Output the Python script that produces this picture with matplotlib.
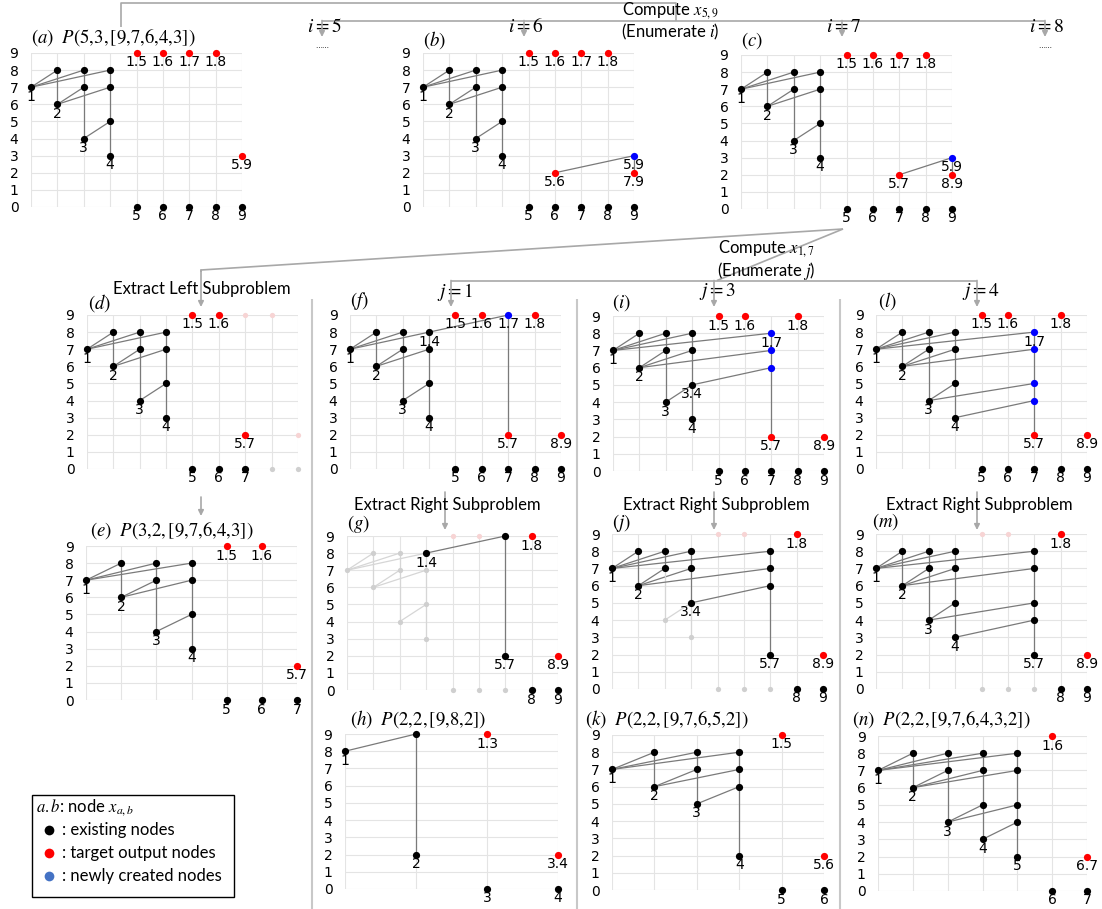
import matplotlib.pyplot as plt
from matplotlib.patches import Rectangle

plt.rcParams['mathtext.fontset'] = 'stix'

W, H = 1102, 909

# ---- data: nodes are (column, row, label, kind); kind k=black r=red b=blue g=faded grey p=faded red
TREE = [(1, 7, '1', 'k'), (2, 8, '', 'k'), (2, 6, '2', 'k'), (3, 8, '', 'k'), (3, 7, '', 'k'),
        (3, 4, '3', 'k'), (4, 8, '', 'k'), (4, 7, '', 'k'), (4, 5, '', 'k'), (4, 3, '4', 'k')]
TREE_EDGES = [((1, 7), (2, 8)), ((1, 7), (3, 8)), ((1, 7), (4, 8)), ((2, 8), (2, 6)),
              ((2, 6), (3, 7)), ((2, 6), (4, 7)), ((3, 8), (3, 4)), ((3, 4), (4, 5)),
              ((4, 8), (4, 3))]
BOTTOM = [(5, 0, '5', 'k'), (6, 0, '6', 'k'), (7, 0, '7', 'k'), (8, 0, '8', 'k'), (9, 0, '9', 'k')]
TOP_RED = [(5, 9, '1.5', 'r'), (6, 9, '1.6', 'r'), (7, 9, '1.7', 'r'), (8, 9, '1.8', 'r')]
RIGHT_BASE = [(5, 9, '', 'p'), (6, 9, '', 'p'), (5, 0, '', 'g'), (6, 0, '', 'g'), (7, 0, '', 'g'),
              (8, 0, '8', 'k'), (9, 0, '9', 'k'), (8, 9, '1.8', 'r'), (9, 2, '8.9', 'r')]


def relabel(nodes, changes):
    out = []
    for c, r, lab, kind in nodes:
        if (c, r) in changes:
            lab, kind = changes[(c, r)]
        out.append((c, r, lab, kind))
    return out


a_nodes = TREE + BOTTOM + TOP_RED + [(9, 3, '5.9', 'r')]
a_edges = TREE_EDGES

b_nodes = TREE + BOTTOM + TOP_RED + [(9, 3, '5.9', 'b'), (6, 2, '5.6', 'r'), (9, 2, '7.9', 'r')]
b_edges = TREE_EDGES + [((6, 2), (9, 3)), ((9, 3), (9, 2))]

c_nodes = TREE + BOTTOM + TOP_RED + [(9, 3, '5.9', 'b'), (7, 2, '5.7', 'r'), (9, 2, '8.9', 'r')]
c_edges = TREE_EDGES + [((7, 2), (9, 3)), ((9, 3), (9, 2))]

d_nodes = TREE + [(5, 0, '5', 'k'), (6, 0, '6', 'k'), (7, 0, '7', 'k'), (8, 0, '', 'g'), (9, 0, '', 'g'),
                  (5, 9, '1.5', 'r'), (6, 9, '1.6', 'r'), (7, 9, '', 'p'), (8, 9, '', 'p'),
                  (7, 2, '5.7', 'r'), (9, 2, '', 'p')]
d_edges = TREE_EDGES

e_nodes = TREE + [(5, 0, '5', 'k'), (6, 0, '6', 'k'), (7, 0, '7', 'k'),
                  (5, 9, '1.5', 'r'), (6, 9, '1.6', 'r'), (7, 2, '5.7', 'r')]
e_edges = TREE_EDGES

f_nodes = relabel(TREE, {(4, 8): ('1.4', 'k')}) + BOTTOM + [
    (5, 9, '1.5', 'r'), (6, 9, '1.6', 'r'), (7, 9, '1.7', 'b'), (8, 9, '1.8', 'r'),
    (7, 2, '5.7', 'r'), (9, 2, '8.9', 'r')]
f_edges = TREE_EDGES + [((4, 8), (7, 9)), ((7, 9), (7, 2))]

g_nodes = [(c, r, '', 'g') for c, r, _, _ in TREE if (c, r) != (4, 8)] + [
    (4, 8, '1.4', 'k'), (7, 9, '', 'k'), (7, 2, '5.7', 'k')] + RIGHT_BASE
g_edges = [(p, q, 'f') for p, q in TREE_EDGES] + [((4, 8), (7, 9)), ((7, 9), (7, 2))]

h_nodes = [(1, 8, '1', 'k'), (2, 9, '', 'k'), (2, 2, '2', 'k'), (3, 9, '1.3', 'r'),
           (4, 2, '3.4', 'r'), (3, 0, '3', 'k'), (4, 0, '4', 'k')]
h_edges = [((1, 8), (2, 9)), ((2, 9), (2, 2))]

i_nodes = relabel(TREE, {(4, 5): ('3.4', 'k')}) + BOTTOM + [
    (5, 9, '1.5', 'r'), (6, 9, '1.6', 'r'), (8, 9, '1.8', 'r'), (7, 8, '1.7', 'b'),
    (7, 7, '', 'b'), (7, 6, '', 'b'), (7, 2, '5.7', 'r'), (9, 2, '8.9', 'r')]
i_edges = TREE_EDGES + [((1, 7), (7, 8)), ((2, 6), (7, 7)), ((4, 5), (7, 6)), ((7, 8), (7, 2))]

j_nodes = relabel(TREE, {(4, 5): ('3.4', 'k'), (3, 4): ('', 'g'), (4, 3): ('', 'g')}) + [
    (7, 8, '', 'k'), (7, 7, '', 'k'), (7, 6, '', 'k'), (7, 2, '5.7', 'k')] + RIGHT_BASE
j_edges = [((1, 7), (2, 8)), ((1, 7), (3, 8)), ((1, 7), (4, 8)), ((2, 8), (2, 6)),
           ((2, 6), (3, 7)), ((2, 6), (4, 7)), ((3, 8), (3, 7)), ((3, 7), (3, 4), 'f'),
           ((3, 4), (4, 5), 'f'), ((4, 8), (4, 5)), ((4, 5), (4, 3), 'f'),
           ((1, 7), (7, 8)), ((2, 6), (7, 7)), ((4, 5), (7, 6)), ((7, 8), (7, 2))]

k_nodes = [(1, 7, '1', 'k'), (2, 8, '', 'k'), (2, 6, '2', 'k'), (3, 8, '', 'k'), (3, 7, '', 'k'),
           (3, 5, '3', 'k'), (4, 8, '', 'k'), (4, 7, '', 'k'), (4, 6, '', 'k'), (4, 2, '4', 'k'),
           (5, 9, '1.5', 'r'), (6, 2, '5.6', 'r'), (5, 0, '5', 'k'), (6, 0, '6', 'k')]
k_edges = [((1, 7), (2, 8)), ((1, 7), (3, 8)), ((1, 7), (4, 8)), ((2, 8), (2, 6)),
           ((2, 6), (3, 7)), ((2, 6), (4, 7)), ((3, 8), (3, 5)), ((3, 5), (4, 6)), ((4, 8), (4, 2))]

l_nodes = TREE + BOTTOM + [
    (5, 9, '1.5', 'r'), (6, 9, '1.6', 'r'), (8, 9, '1.8', 'r'), (7, 8, '1.7', 'b'),
    (7, 7, '', 'b'), (7, 5, '', 'b'), (7, 4, '', 'b'), (7, 2, '5.7', 'r'), (9, 2, '8.9', 'r')]
l_edges = TREE_EDGES + [((1, 7), (7, 8)), ((2, 6), (7, 7)), ((3, 4), (7, 5)), ((4, 3), (7, 4)),
                        ((7, 8), (7, 2))]

m_nodes = TREE + [(7, 8, '', 'k'), (7, 7, '', 'k'), (7, 5, '', 'k'), (7, 4, '', 'k'),
                  (7, 2, '5.7', 'k')] + RIGHT_BASE
m_edges = l_edges

n_nodes = [(1, 7, '1', 'k'), (2, 8, '', 'k'), (2, 6, '2', 'k'), (3, 8, '', 'k'), (3, 7, '', 'k'),
           (3, 4, '3', 'k'), (4, 8, '', 'k'), (4, 7, '', 'k'), (4, 5, '', 'k'), (4, 3, '4', 'k'),
           (5, 8, '', 'k'), (5, 7, '', 'k'), (5, 5, '', 'k'), (5, 4, '', 'k'), (5, 2, '5', 'k'),
           (6, 9, '1.6', 'r'), (7, 2, '6.7', 'r'), (6, 0, '6', 'k'), (7, 0, '7', 'k')]
n_edges = [((1, 7), (2, 8)), ((1, 7), (3, 8)), ((1, 7), (4, 8)), ((1, 7), (5, 8)), ((2, 8), (2, 6)),
           ((2, 6), (3, 7)), ((2, 6), (4, 7)), ((2, 6), (5, 7)), ((3, 8), (3, 4)), ((3, 4), (4, 5)),
           ((3, 4), (5, 5)), ((4, 8), (4, 3)), ((4, 3), (5, 4)), ((5, 8), (5, 2))]

# panel boxes in pixels: x of first column, x of last column, y of row 9, y of row 0
PANELS = [
    ((31, 242, 53, 207), 9, a_nodes, a_edges),
    ((423, 634, 53, 207), 9, b_nodes, b_edges),
    ((741, 952, 55, 209), 9, c_nodes, c_edges),
    ((87, 298, 315, 469), 9, d_nodes, d_edges),
    ((86, 297, 546, 700), 7, e_nodes, e_edges),
    ((350, 561, 315, 469), 9, f_nodes, f_edges),
    ((347, 558, 536, 690), 9, g_nodes, g_edges),
    ((345, 558, 734, 889), 4, h_nodes, h_edges),
    ((613, 824, 316, 471), 9, i_nodes, i_edges),
    ((612, 823, 534, 689), 9, j_nodes, j_edges),
    ((612, 824, 735, 890), 6, k_nodes, k_edges),
    ((876, 1087, 315, 469), 9, l_nodes, l_edges),
    ((876, 1087, 534, 689), 9, m_nodes, m_edges),
    ((878, 1087, 736, 891), 7, n_nodes, n_edges),
]

NODE_COLORS = {'k': '#000000', 'r': '#ff0000', 'b': '#0000ff', 'g': '#cfcfcf', 'p': '#f7d4d4'}

fig = plt.figure(figsize=(W / 100, H / 100), dpi=100)


def draw_panel(box, ncol, nodes, edges):
    xl, xr, yt, yb = box
    ax = fig.add_axes([xl / W, 1 - yb / H, (xr - xl) / W, (yb - yt) / H])
    ax.set_xlim(1, ncol)
    ax.set_ylim(0, 9)
    ax.set_xticks(range(1, ncol + 1))
    ax.set_yticks(range(10))
    ax.grid(True, color='#e4e4e4', lw=0.8)
    ax.set_axisbelow(True)
    ax.tick_params(length=0, labelbottom=False, pad=9, labelsize=10)
    for s in ax.spines.values():
        s.set_visible(False)
    for e in edges:
        p, q = e[0], e[1]
        faded = len(e) > 2
        ax.plot([p[0], q[0]], [p[1], q[1]], color='#d6d6d6' if faded else '#7a7a7a',
                lw=0.9, zorder=2, clip_on=False)
    for c, r, lab, kind in nodes:
        small = kind in 'gp'
        ax.plot(c, r, 'o', color=NODE_COLORS[kind], ms=3.8 if small else 5.2,
                mec='none', zorder=3, clip_on=False)
        if lab:
            ax.annotate(lab, (c, r), xytext=(0, -1.8), textcoords='offset points',
                        ha='center', va='top', fontsize=10, annotation_clip=False, zorder=4)
    return ax


for box, ncol, nodes, edges in PANELS:
    draw_panel(box, ncol, nodes, edges)

# ---- overlay in pixel coordinates for titles, connectors and legend
ov = fig.add_axes([0, 0, 1, 1])
ov.set_xlim(0, W)
ov.set_ylim(H, 0)
ov.axis('off')
ov.patch.set_alpha(0)

LINE_C = '#a8a8a8'
SANS = 'Lato'


def seg(xs, ys, lw=1.2, color=LINE_C):
    ov.plot(xs, ys, color=color, lw=lw, solid_capstyle='butt')


def arrow(x, y0, y1):
    ov.annotate('', xy=(x, y1), xytext=(x, y0),
                arrowprops=dict(arrowstyle='-|>', color=LINE_C, lw=1.2, mutation_scale=8,
                                shrinkA=0, shrinkB=0))


titles = [
    (31, 37, r'$(a)\ \ P(5{,}3{,}\,[9{,}7{,}6{,}4{,}3])$'),
    (423, 40, r'$(b)$'),
    (741, 41, r'$(c)$'),
    (88, 303, r'$(d)$'),
    (90, 530, r'$(e)\ \ P(3{,}2{,}\,[9{,}7{,}6{,}4{,}3])$'),
    (350, 301, r'$(f)$'),
    (347, 524, r'$(g)$'),
    (350, 719, r'$(h)\ \ P(2{,}2{,}\,[9{,}8{,}2])$'),
    (612, 303, r'$(i)$'),
    (612, 523, r'$(j)$'),
    (585, 719, r'$(k)\ \ P(2{,}2{,}\,[9{,}7{,}6{,}5{,}2])$'),
    (878, 301, r'$(l)$'),
    (872, 522, r'$(m)$'),
    (852, 719, r'$(n)\ \ P(2{,}2{,}\,[9{,}7{,}6{,}4{,}3{,}2])$'),
]
for x, y, t in titles:
    ov.text(x, y, t, fontsize=13.5, ha='left', va='center')

# top connector: compute x_{5,9}, enumerate i
seg([121, 121, 676, 676], [27, 3, 3, 20.5])
seg([322, 1045], [20.5, 20.5])
for x, lab in [(322, '$i=5$'), (524, '$i=6$'), (842, '$i=7$'), (1045, '$i=8$')]:
    ov.text(x + 2, 27, lab, fontsize=14, ha='center', va='center')
    arrow(x, 20.5, 37)
for x in (322, 1045):
    ov.text(x, 46, '……', fontsize=5, ha='center', va='center')
ov.text(670, 11, r'Compute $x_{5,9}$', fontsize=12, family=SANS, ha='center', va='center')
ov.text(670, 32, r'(Enumerate $i$)', fontsize=12, family=SANS, ha='center', va='center')

# second connector: compute x_{1,7}, enumerate j
seg([843, 201, 201], [229, 270, 272])
arrow(201, 270, 307)
ov.text(202, 289, 'Extract Left Subproblem', fontsize=12, family=SANS, ha='center', va='center')
seg([843, 717], [229, 280.5])
seg([451, 977], [280.5, 280.5])
for x, lab in [(451, '$j=1$'), (714, '$j=3$'), (977, '$j=4$')]:
    ov.text(x + 4, 292, lab, fontsize=14, ha='center', va='center')
    arrow(x, 280.5, 307)
ov.text(766, 249, r'Compute $x_{1,7}$', fontsize=12, family=SANS, ha='center', va='center')
ov.text(766, 271, r'(Enumerate $j$)', fontsize=12, family=SANS, ha='center', va='center')

# subproblem arrows
arrow(201, 497, 516)
for x in (445, 714, 977):
    arrow(x, 492, 530)
    ov.text(x + 2, 505, 'Extract Right Subproblem', fontsize=12, family=SANS,
            ha='center', va='center')

# column separators
for x in (312, 577, 840):
    seg([x, x], [299, 909], lw=1.5, color='#c8c8c8')

# legend box
ov.add_patch(Rectangle((32, 795), 202, 102, fill=False, ec='black', lw=1))
ov.text(36, 808, r'$a.b$: node $x_{a,b}$', fontsize=12, family=SANS, va='center')
legend_rows = [('#000000', ': existing nodes'), ('#ff0000', ': target output nodes'),
               ('#4472c4', ': newly created nodes')]
for k, (col, txt) in enumerate(legend_rows):
    y = 830 + 23 * k
    ov.plot(49, y, 'o', color=col, ms=7, mec='none')
    ov.text(62, y, txt, fontsize=12, family=SANS, va='center')

fig.savefig('out.png', dpi=100)
